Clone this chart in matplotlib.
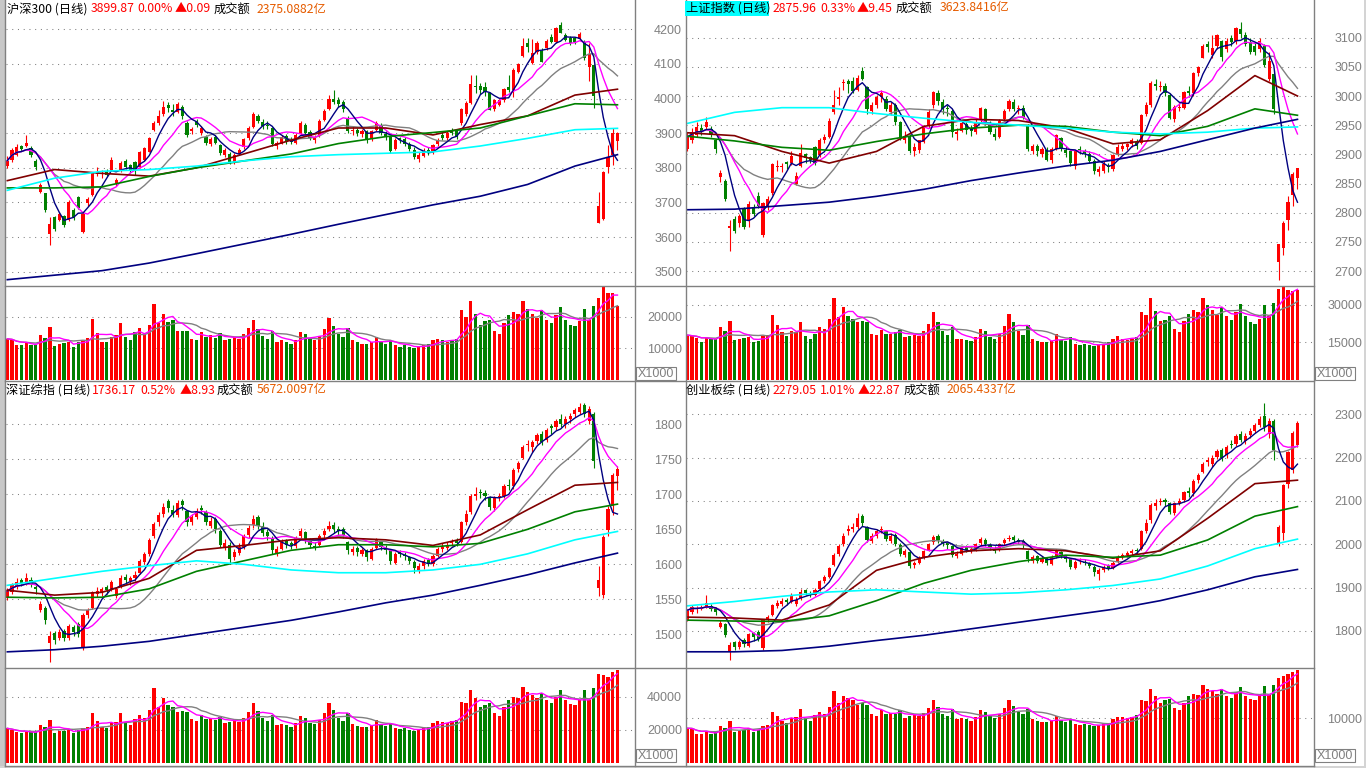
import numpy as np
import pandas as pd
import matplotlib
matplotlib.use("Agg")
import matplotlib.pyplot as plt
from matplotlib.patches import Rectangle
from matplotlib.lines import Line2D

plt.rcParams['font.family'] = ['Noto Sans CJK SC', 'DejaVu Sans']

W, H = 1366, 768
STEP = 4.73  # px between two candles

RED = '#ff0000'
GREEN = '#008000'
NAVY = '#000080'
MAGENTA = '#ff00ff'
GRAY = '#808080'
DARKRED = '#800000'
CYAN = '#00ffff'
FRAME = '#808080'
ORANGE = '#e65c00'

days = np.arange(130)
MA_IDX = [0, 10, 20, 30, 40, 50, 60, 70, 80, 90, 100, 110, 120, 129]

# ---------------- 沪深300 ----------------
hs_open = [3806, 3823, 3837, 3863, 3863, 3856, 3821, 3731, 3726, 3610,
           3658, 3650, 3660, 3650, 3679, 3716, 3616, 3697, 3721, 3782,
           3781, 3790, 3793, 3755, 3793, 3821, 3808, 3818, 3803, 3824,
           3847, 3910, 3930, 3955, 3980, 3968, 3962, 3975, 3929, 3905,
           3934, 3900, 3890, 3868, 3890, 3866, 3838, 3840, 3818, 3840,
           3860, 3885, 3918, 3950, 3932, 3925, 3915, 3862, 3870, 3892,
           3880, 3872, 3898, 3925, 3902, 3880, 3892, 3938, 3970, 3998,
           3995, 3990, 3945, 3905, 3908, 3898, 3905, 3882, 3908, 3925,
           3898, 3888, 3855, 3885, 3882, 3870, 3852, 3825, 3835, 3852,
           3845, 3868, 3896, 3885, 3909, 3907, 3929, 3955, 3988, 4036,
           4036, 4033, 4017, 3969, 3982, 3996, 4033, 4025, 4078, 4123,
           4161, 4102, 4135, 4136, 4147, 4179, 4164, 4212, 4184, 4174,
           4174, 4171, 4164, 4090, 4097, 3642, 3652, 3803, 3837, 3876]
hs_high = [3835, 3857, 3868, 3866, 3895, 3864, 3825, 3755, 3728, 3658,
           3662, 3672, 3664, 3706, 3684, 3720, 3672, 3716, 3788, 3801,
           3795, 3796, 3830, 3772, 3820, 3826, 3812, 3820, 3850, 3860,
           3890, 3935, 3968, 3992, 3990, 3985, 3990, 3980, 3935, 3918,
           3940, 3920, 3895, 3890, 3895, 3870, 3858, 3845, 3842, 3858,
           3886, 3920, 3962, 3955, 3940, 3935, 3918, 3878, 3895, 3898,
           3888, 3900, 3935, 3930, 3910, 3895, 3940, 3970, 4010, 4025,
           4005, 3995, 3950, 3920, 3915, 3912, 3908, 3910, 3935, 3928,
           3905, 3892, 3885, 3890, 3888, 3875, 3860, 3845, 3858, 3860,
           3870, 3885, 3902, 3905, 3915, 3910, 3972, 3992, 4068, 4068,
           4045, 4048, 4020, 4000, 4000, 4030, 4068, 4088, 4102, 4175,
           4175, 4171, 4165, 4145, 4172, 4185, 4208, 4222, 4190, 4180,
           4178, 4192, 4168, 4160, 4100, 3731, 3790, 3866, 3914, 3902]
hs_low = [3800, 3816, 3834, 3850, 3860, 3832, 3794, 3728, 3672, 3576,
          3618, 3645, 3630, 3645, 3650, 3680, 3612, 3690, 3718, 3776,
          3770, 3775, 3790, 3748, 3788, 3798, 3785, 3780, 3800, 3820,
          3845, 3905, 3925, 3950, 3960, 3950, 3958, 3940, 3890, 3898,
          3918, 3895, 3865, 3862, 3868, 3838, 3832, 3810, 3812, 3836,
          3855, 3880, 3915, 3928, 3912, 3912, 3862, 3855, 3868, 3870,
          3868, 3870, 3895, 3895, 3880, 3872, 3890, 3935, 3968, 3985,
          3975, 3962, 3900, 3895, 3892, 3890, 3872, 3878, 3905, 3895,
          3880, 3842, 3852, 3872, 3862, 3850, 3825, 3818, 3830, 3838,
          3840, 3862, 3880, 3880, 3895, 3882, 3925, 3950, 3985, 4015,
          4012, 4008, 3967, 3965, 3978, 3990, 4020, 4005, 4075, 4120,
          4135, 4100, 4130, 4105, 4140, 4160, 4160, 4188, 4165, 4155,
          4158, 4168, 4110, 4050, 3972, 3640, 3650, 3784, 3808, 3852]
hs_close = [3821, 3852, 3861, 3854, 3873, 3837, 3803, 3750, 3677, 3639,
            3624, 3666, 3634, 3702, 3658, 3685, 3668, 3711, 3784, 3789,
            3784, 3780, 3823, 3766, 3815, 3803, 3795, 3793, 3847, 3856,
            3885, 3929, 3950, 3975, 3972, 3960, 3985, 3950, 3895, 3912,
            3924, 3914, 3871, 3882, 3872, 3842, 3852, 3815, 3837, 3852,
            3882, 3915, 3955, 3935, 3920, 3920, 3870, 3872, 3890, 3875,
            3875, 3895, 3930, 3900, 3885, 3885, 3935, 3965, 4000, 3990,
            3985, 3970, 3905, 3910, 3900, 3905, 3880, 3905, 3930, 3900,
            3890, 3850, 3880, 3880, 3870, 3855, 3830, 3837, 3850, 3845,
            3865, 3880, 3887, 3900, 3900, 3888, 3970, 3986, 4042, 4033,
            4025, 4020, 3967, 3996, 3996, 4027, 4025, 4083, 4100, 4152,
            4148, 4131, 4160, 4107, 4166, 4164, 4203, 4190, 4169, 4160,
            4164, 4186, 4116, 4130, 4006, 3690, 3787, 3832, 3899.78, 3899.87]
hs_vol = [13000, 12660, 11100, 11100, 11600, 11100, 11100, 14240, 13400, 16800,
          10760, 11400, 11800, 12130, 10440, 12130, 12450, 13190, 19300, 14970,
          12130, 12130, 13720, 14240, 18150, 13720, 12660, 15300, 16570, 14770,
          17400, 24050, 17930, 20990, 18460, 18990, 15510, 15510, 15510, 13000,
          12660, 15190, 13720, 14240, 13400, 14970, 12500, 13000, 13500, 13000,
          14500, 16500, 19000, 16000, 14000, 13000, 15500, 12000, 12500, 12000,
          11500, 12500, 15000, 14500, 13000, 12500, 14000, 16000, 19500, 17000,
          14500, 13500, 16500, 12500, 12000, 11500, 11500, 12000, 13500, 12000,
          11500, 12500, 11000, 10500, 11000, 10500, 10000, 10500, 11000, 11500,
          12500, 13000, 12500, 12000, 12500, 13000, 22000, 20000, 25000, 21000,
          17500, 18500, 19000, 15500, 14500, 18000, 20500, 21500, 21000, 25000,
          22500, 21000, 19500, 22000, 19000, 18000, 20500, 23000, 19000, 17500,
          17000, 18500, 22500, 19000, 23500, 26000, 29500, 27600, 27600, 23500]
hs_ma30 = [3763, 3795, 3784, 3776, 3800, 3840, 3880, 3915, 3915, 3895, 3925, 3950, 4010, 4027]
hs_ma60 = [3742, 3742, 3745, 3775, 3800, 3820, 3840, 3870, 3890, 3902, 3915, 3950, 3985, 3982]
hs_ma120 = [3735, 3770, 3790, 3795, 3805, 3820, 3832, 3838, 3842, 3846, 3863, 3885, 3910, 3914]
hs_ma250 = [3477, 3490, 3503, 3525, 3552, 3580, 3608, 3637, 3665, 3693, 3718, 3752, 3805, 3838]

# ---------------- 上证指数 ----------------
sh_open = [2909, 2925, 2933, 2946, 2947, 2944, 2925, 2861, 2855, 2774,
           2790, 2783, 2806, 2788, 2808, 2828, 2762, 2810, 2833, 2878,
           2878, 2887, 2885, 2850, 2880, 2901, 2895, 2913, 2899, 2925,
           2930, 2973, 2995, 3022, 3025, 3025, 3010, 3043, 3016, 2975,
           2985, 2998, 2995, 2972, 2985, 2955, 2925, 2930, 2905, 2908,
           2922, 2950, 2985, 3005, 2990, 2980, 2975, 2935, 2940, 2952,
           2945, 2938, 2960, 2978, 2950, 2935, 2930, 2960, 2978, 2990,
           2978, 2980, 2950, 2905, 2915, 2900, 2908, 2890, 2910, 2928,
           2908, 2905, 2880, 2908, 2905, 2900, 2888, 2870, 2872, 2880,
           2875, 2900, 2910, 2912, 2918, 2922, 2920, 2970, 2985, 3020,
           3015, 3018, 3002, 2960, 2980, 2980, 3008, 3005, 3040, 3066,
           3089, 3070, 3085, 3095, 3080, 3100, 3095, 3115, 3105, 3092,
           3085, 3080, 3085, 3030, 3037, 2716, 2739, 2787, 2830, 2859]
sh_high = [2938, 2945, 2955, 2952, 2964, 2948, 2927, 2873, 2857, 2788,
           2795, 2798, 2810, 2820, 2815, 2835, 2818, 2828, 2885, 2890,
           2885, 2888, 2905, 2870, 2918, 2903, 2898, 2915, 2928, 2935,
           2962, 3010, 3015, 3030, 3030, 3032, 3036, 3050, 3018, 2990,
           3002, 3010, 3000, 2990, 2988, 2958, 2940, 2935, 2920, 2925,
           2950, 2978, 3008, 3010, 2995, 2985, 2978, 2945, 2958, 2955,
           2950, 2960, 2982, 2980, 2958, 2945, 2960, 2978, 2995, 2995,
           2985, 2985, 2952, 2918, 2918, 2912, 2912, 2912, 2935, 2930,
           2915, 2908, 2908, 2915, 2910, 2905, 2892, 2880, 2888, 2885,
           2900, 2918, 2920, 2920, 2928, 2926, 2970, 2990, 3025, 3030,
           3025, 3022, 3005, 2985, 2990, 3008, 3018, 3042, 3052, 3090,
           3095, 3105, 3106, 3096, 3100, 3105, 3118, 3127, 3110, 3100,
           3092, 3100, 3090, 3075, 3045, 2746, 2785, 2828, 2870, 2876]
sh_low = [2905, 2920, 2930, 2933, 2944, 2930, 2902, 2853, 2820, 2734,
          2765, 2775, 2772, 2775, 2795, 2808, 2758, 2805, 2830, 2872,
          2870, 2875, 2882, 2848, 2878, 2885, 2886, 2882, 2895, 2920,
          2928, 2970, 2985, 3010, 3005, 3005, 3008, 3028, 2970, 2970,
          2980, 2990, 2975, 2968, 2950, 2925, 2920, 2903, 2898, 2902,
          2920, 2945, 2980, 2985, 2970, 2965, 2930, 2925, 2938, 2935,
          2932, 2935, 2955, 2950, 2935, 2925, 2928, 2955, 2975, 2975,
          2970, 2960, 2905, 2900, 2898, 2895, 2888, 2885, 2908, 2905,
          2895, 2880, 2875, 2900, 2895, 2885, 2866, 2863, 2868, 2870,
          2872, 2898, 2905, 2908, 2912, 2910, 2918, 2965, 2982, 3010,
          3008, 3000, 2960, 2955, 2975, 2978, 2998, 3000, 3035, 3065,
          3075, 3065, 3080, 3060, 3075, 3085, 3090, 3100, 3085, 3072,
          3070, 3075, 3050, 3025, 2970, 2685, 2728, 2771, 2812, 2840]
sh_close = [2930, 2939, 2947, 2940, 2956, 2934, 2910, 2868, 2823, 2778,
            2769, 2794, 2776, 2815, 2798, 2811, 2816, 2824, 2883, 2880,
            2880, 2883, 2898, 2863, 2902, 2893, 2890, 2886, 2924, 2930,
            2957, 2985, 2999, 3024, 3021, 3008, 3031, 3030, 2978, 2985,
            2999, 3006, 2978, 2985, 2955, 2929, 2932, 2905, 2913, 2924,
            2947, 2973, 3007, 2991, 2978, 2977, 2938, 2939, 2954, 2941,
            2940, 2955, 2980, 2954, 2939, 2929, 2958, 2975, 2991, 2978,
            2978, 2964, 2909, 2914, 2905, 2909, 2891, 2909, 2933, 2911,
            2903, 2885, 2906, 2907, 2903, 2889, 2872, 2875, 2884, 2878,
            2899, 2912, 2915, 2917, 2924, 2915, 2968, 2985, 3022, 3017,
            3017, 3005, 2962, 2982, 2981, 3007, 3005, 3040, 3050, 3085,
            3084, 3083, 3104, 3067, 3095, 3092, 3116, 3107, 3090, 3075,
            3075, 3095, 3053, 3060, 2977, 2746, 2783, 2818, 2866.51, 2875.96]
sh_vol = [17900, 17400, 16900, 15000, 16900, 16200, 16200, 21300, 19500, 23500,
          16000, 16500, 16800, 17000, 15000, 15500, 17500, 18000, 26000, 22000,
          19000, 17500, 19500, 19000, 23000, 17500, 16500, 18500, 21000, 20500,
          24500, 33000, 25000, 29000, 25500, 24500, 23000, 23500, 23000, 18500,
          18000, 20000, 18500, 18500, 19000, 20000, 17000, 17500, 18000, 17500,
          19500, 22500, 27000, 23000, 19500, 18000, 21000, 16500, 16500, 16000,
          15500, 17000, 20500, 19500, 17000, 16500, 18500, 21500, 26500, 23000,
          19500, 18000, 22000, 16500, 15500, 15000, 15000, 15500, 18500, 16000,
          15500, 17000, 14500, 14000, 14500, 14000, 13500, 14000, 14500, 15000,
          16500, 17500, 16500, 16000, 16500, 17000, 27000, 26000, 33000, 27500,
          23500, 24000, 25500, 20500, 19000, 23500, 26500, 28000, 27000, 33000,
          30000, 28000, 26000, 29000, 25500, 24000, 27000, 30500, 25500, 23000,
          22500, 24500, 30000, 25500, 31000, 36500, 37500, 36000, 35500, 36000]
sh_ma30 = [2937, 2932, 2905, 2885, 2905, 2948, 2960, 2958, 2945, 2918, 2925, 2975, 3035, 3000]
sh_ma60 = [2931, 2923, 2912, 2907, 2922, 2935, 2945, 2950, 2948, 2938, 2932, 2948, 2978, 2967]
sh_ma120 = [2953, 2972, 2980, 2980, 2970, 2962, 2955, 2950, 2945, 2938, 2935, 2938, 2945, 2947]
sh_ma250 = [2805, 2806, 2812, 2818, 2828, 2840, 2855, 2868, 2880, 2890, 2905, 2925, 2945, 2960]

# ---------------- 深证综指 ----------------
sz_open = [1552, 1560, 1568, 1577, 1572, 1578, 1568, 1535, 1538, 1488,
           1502, 1495, 1505, 1495, 1510, 1515, 1482, 1528, 1538, 1558,
           1560, 1567, 1565, 1555, 1568, 1582, 1576, 1580, 1588, 1604,
           1615, 1640, 1660, 1672, 1690, 1678, 1670, 1690, 1676, 1660,
           1668, 1680, 1675, 1655, 1665, 1648, 1625, 1628, 1610, 1616,
           1625, 1642, 1656, 1668, 1655, 1646, 1638, 1615, 1622, 1633,
           1630, 1626, 1640, 1646, 1634, 1626, 1628, 1642, 1650, 1656,
           1650, 1650, 1632, 1618, 1623, 1615, 1620, 1608, 1624, 1632,
           1624, 1620, 1602, 1618, 1614, 1610, 1604, 1592, 1598, 1606,
           1600, 1612, 1622, 1624, 1630, 1635, 1632, 1660, 1675, 1698,
           1704, 1702, 1696, 1680, 1696, 1698, 1714, 1712, 1736, 1752,
           1770, 1768, 1776, 1786, 1778, 1798, 1796, 1808, 1800, 1808,
           1815, 1818, 1828, 1805, 1815, 1566, 1556, 1649, 1683, 1726]
sz_high = [1566, 1574, 1580, 1580, 1588, 1582, 1570, 1548, 1540, 1505,
           1505, 1508, 1508, 1515, 1514, 1518, 1530, 1538, 1562, 1568,
           1568, 1570, 1578, 1568, 1585, 1586, 1584, 1590, 1607, 1618,
           1638, 1660, 1675, 1688, 1693, 1685, 1692, 1694, 1678, 1672,
           1680, 1685, 1678, 1668, 1668, 1650, 1636, 1632, 1622, 1630,
           1643, 1656, 1670, 1670, 1660, 1650, 1640, 1626, 1636, 1636,
           1634, 1640, 1652, 1648, 1638, 1632, 1643, 1652, 1662, 1660,
           1655, 1654, 1634, 1626, 1626, 1624, 1622, 1625, 1638, 1634,
           1628, 1622, 1618, 1620, 1618, 1612, 1606, 1602, 1608, 1609,
           1615, 1625, 1630, 1632, 1636, 1638, 1662, 1678, 1700, 1710,
           1708, 1706, 1698, 1697, 1702, 1715, 1722, 1737, 1748, 1770,
           1778, 1778, 1788, 1790, 1795, 1800, 1808, 1815, 1812, 1816,
           1824, 1830, 1830, 1826, 1818, 1598, 1642, 1684, 1731, 1740]
sz_low = [1549, 1557, 1565, 1569, 1570, 1568, 1558, 1532, 1515, 1460,
          1486, 1492, 1490, 1492, 1498, 1496, 1478, 1524, 1536, 1554,
          1555, 1558, 1562, 1552, 1566, 1572, 1570, 1576, 1586, 1600,
          1612, 1638, 1655, 1668, 1675, 1668, 1668, 1678, 1655, 1656,
          1665, 1672, 1656, 1652, 1645, 1625, 1620, 1600, 1606, 1614,
          1622, 1638, 1652, 1650, 1640, 1635, 1615, 1612, 1620, 1624,
          1622, 1624, 1637, 1630, 1624, 1620, 1626, 1638, 1647, 1645,
          1642, 1638, 1615, 1614, 1612, 1612, 1605, 1606, 1622, 1620,
          1615, 1600, 1600, 1610, 1606, 1600, 1588, 1588, 1594, 1598,
          1598, 1610, 1618, 1620, 1626, 1626, 1630, 1656, 1672, 1692,
          1695, 1692, 1678, 1676, 1690, 1695, 1706, 1708, 1732, 1750,
          1762, 1760, 1772, 1770, 1775, 1786, 1792, 1796, 1795, 1802,
          1810, 1815, 1810, 1800, 1738, 1555, 1552, 1640, 1670, 1706]
sz_close = [1562, 1570, 1575, 1573, 1580, 1572, 1565, 1543, 1520, 1497,
            1492, 1503, 1495, 1512, 1503, 1500, 1528, 1535, 1560, 1562,
            1565, 1563, 1575, 1565, 1580, 1577, 1580, 1585, 1605, 1615,
            1635, 1658, 1670, 1682, 1680, 1672, 1688, 1685, 1660, 1668,
            1675, 1678, 1660, 1662, 1650, 1628, 1630, 1608, 1618, 1625,
            1640, 1652, 1665, 1655, 1645, 1640, 1620, 1622, 1632, 1628,
            1628, 1638, 1648, 1635, 1628, 1625, 1640, 1648, 1655, 1650,
            1648, 1642, 1620, 1622, 1618, 1620, 1610, 1622, 1635, 1625,
            1620, 1605, 1615, 1615, 1612, 1605, 1595, 1598, 1605, 1602,
            1612, 1622, 1625, 1628, 1632, 1630, 1660, 1672, 1698, 1700,
            1702, 1698, 1682, 1695, 1698, 1712, 1712, 1735, 1745, 1768,
            1772, 1775, 1785, 1775, 1792, 1795, 1805, 1800, 1808, 1812,
            1820, 1825, 1815, 1822, 1748, 1578, 1639, 1679, 1727.24, 1736.17]
sz_vol = [21000, 20000, 18500, 18000, 19000, 18500, 19000, 23000, 22000, 26000,
          18000, 19500, 19500, 20500, 18000, 20000, 21000, 22000, 30000, 25500,
          22000, 21500, 24000, 25000, 30000, 24000, 23000, 26500, 29000, 27500,
          32000, 45000, 34000, 39000, 35000, 34000, 31000, 31500, 31000, 26500,
          25500, 29000, 26500, 27000, 26000, 28000, 24000, 25000, 25500, 25000,
          27500, 31000, 36000, 31500, 27000, 25500, 29000, 23000, 23500, 23000,
          22000, 24000, 28500, 27500, 24500, 23500, 26000, 30000, 36000, 32000,
          27500, 25500, 30000, 23500, 22500, 22000, 22000, 23000, 26000, 23500,
          22500, 24000, 21000, 20500, 21000, 20000, 19500, 20500, 21500, 22000,
          24000, 25500, 25000, 24500, 25500, 26000, 37000, 36000, 44000, 39000,
          34000, 35000, 36000, 30000, 28500, 34000, 38000, 40000, 39000, 46000,
          43000, 41000, 39000, 42000, 38000, 36500, 40000, 44000, 38000, 35500,
          35000, 38000, 44000, 38000, 45000, 53500, 53000, 52000, 54600, 56000]
sz_ma30 = [1563, 1556, 1560, 1580, 1620, 1627, 1635, 1638, 1635, 1627, 1642, 1678, 1713, 1717]
sz_ma60 = [1553, 1552, 1553, 1565, 1590, 1605, 1620, 1628, 1628, 1625, 1630, 1650, 1675, 1686]
sz_ma120 = [1570, 1580, 1590, 1598, 1605, 1600, 1592, 1588, 1588, 1592, 1600, 1615, 1635, 1647]
sz_ma250 = [1475, 1478, 1483, 1490, 1500, 1510, 1520, 1532, 1545, 1556, 1570, 1585, 1602, 1616]

# ---------------- 创业板综 ----------------
cy_open = [1825, 1844, 1850, 1851, 1856, 1858, 1854, 1810, 1815, 1752,
           1775, 1762, 1780, 1765, 1795, 1798, 1760, 1825, 1838, 1858,
           1862, 1872, 1868, 1862, 1875, 1895, 1886, 1884, 1896, 1915,
           1925, 1952, 1978, 2000, 2030, 2035, 2040, 2065, 2040, 2008,
           2020, 2032, 2030, 2008, 2022, 1998, 1975, 1982, 1952, 1958,
           1968, 1988, 2005, 2020, 2008, 2002, 1995, 1972, 1978, 1994,
           1988, 1988, 2002, 2010, 1998, 1990, 1988, 2002, 2012, 2018,
           2010, 2008, 1985, 1962, 1972, 1960, 1968, 1955, 1972, 1982,
           1970, 1965, 1946, 1962, 1960, 1958, 1948, 1932, 1940, 1950,
           1945, 1960, 1970, 1975, 1980, 1988, 1990, 2030, 2055, 2088,
           2098, 2102, 2095, 2072, 2096, 2102, 2122, 2118, 2148, 2168,
           2190, 2185, 2202, 2218, 2205, 2232, 2232, 2255, 2238, 2252,
           2262, 2275, 2295, 2255, 2285, 2000, 2025, 2140, 2172, 2229]
cy_high = [1850, 1860, 1858, 1860, 1883, 1862, 1856, 1825, 1818, 1775,
           1778, 1780, 1784, 1796, 1798, 1802, 1828, 1838, 1862, 1872,
           1875, 1875, 1888, 1878, 1898, 1898, 1892, 1900, 1918, 1930,
           1948, 1980, 2000, 2025, 2045, 2050, 2072, 2070, 2042, 2025,
           2035, 2042, 2034, 2025, 2025, 2002, 1990, 1986, 1962, 1972,
           1988, 2004, 2022, 2024, 2012, 2006, 1998, 1985, 1996, 1998,
           1995, 2004, 2018, 2014, 2002, 1995, 2004, 2015, 2022, 2022,
           2015, 2012, 1988, 1975, 1975, 1972, 1970, 1975, 1990, 1985,
           1975, 1968, 1964, 1968, 1965, 1960, 1952, 1945, 1952, 1954,
           1962, 1975, 1980, 1985, 1990, 1992, 2034, 2058, 2095, 2105,
           2108, 2108, 2098, 2098, 2106, 2124, 2132, 2150, 2165, 2190,
           2202, 2205, 2220, 2222, 2230, 2240, 2255, 2262, 2256, 2268,
           2280, 2295, 2325, 2292, 2290, 2045, 2140, 2215, 2262, 2285]
cy_low = [1822, 1840, 1842, 1848, 1853, 1846, 1838, 1806, 1786, 1733,
          1755, 1758, 1762, 1762, 1778, 1776, 1756, 1820, 1835, 1852,
          1858, 1860, 1865, 1858, 1872, 1882, 1878, 1880, 1892, 1910,
          1922, 1950, 1972, 1996, 2022, 2028, 2036, 2042, 2005, 2002,
          2015, 2025, 2008, 2004, 1995, 1972, 1970, 1945, 1946, 1955,
          1965, 1984, 2000, 2004, 1995, 1990, 1970, 1968, 1975, 1982,
          1980, 1985, 1998, 1995, 1986, 1980, 1985, 1998, 2008, 2005,
          2000, 1992, 1960, 1958, 1958, 1956, 1952, 1952, 1968, 1968,
          1960, 1942, 1942, 1955, 1952, 1945, 1928, 1918, 1936, 1940,
          1942, 1956, 1966, 1970, 1976, 1978, 1988, 2025, 2050, 2080,
          2090, 2088, 2070, 2068, 2090, 2098, 2110, 2112, 2142, 2165,
          2180, 2178, 2196, 2192, 2200, 2222, 2228, 2235, 2232, 2246,
          2258, 2270, 2262, 2245, 2195, 1995, 2010, 2130, 2165, 2225]
cy_close = [1848, 1856, 1852, 1856, 1865, 1851, 1843, 1818, 1790, 1768,
            1762, 1775, 1770, 1792, 1785, 1782, 1825, 1832, 1860, 1865,
            1870, 1868, 1882, 1872, 1890, 1888, 1885, 1895, 1915, 1925,
            1945, 1975, 1995, 2020, 2035, 2040, 2060, 2050, 2010, 2020,
            2030, 2035, 2012, 2020, 2000, 1978, 1985, 1950, 1958, 1968,
            1985, 2000, 2018, 2010, 2002, 1998, 1975, 1978, 1992, 1988,
            1990, 2000, 2012, 2000, 1992, 1985, 2000, 2010, 2015, 2010,
            2005, 1998, 1965, 1970, 1962, 1968, 1958, 1970, 1985, 1972,
            1965, 1948, 1960, 1962, 1958, 1950, 1935, 1940, 1948, 1945,
            1958, 1970, 1975, 1980, 1985, 1985, 2030, 2050, 2090, 2095,
            2100, 2098, 2075, 2095, 2100, 2120, 2118, 2145, 2160, 2185,
            2195, 2200, 2215, 2200, 2225, 2230, 2250, 2240, 2250, 2262,
            2275, 2290, 2270, 2285, 2218, 2040, 2138, 2212, 2256.18, 2279.05]
cy_vol = [7800, 7700, 6500, 6450, 7250, 6500, 7000, 8200, 7800, 9500,
          7000, 7200, 7500, 7800, 7000, 7500, 8200, 8500, 11500, 10500,
          9500, 9000, 10000, 10200, 12000, 10000, 9500, 10800, 11500, 11000,
          12500, 16000, 13500, 15000, 14500, 14000, 13000, 13500, 13000, 11000,
          10500, 11800, 11000, 11200, 11000, 11800, 10000, 10500, 10800, 10500,
          11200, 12200, 14000, 12500, 11000, 10500, 12000, 9800, 10000, 9800,
          9500, 10200, 11800, 11500, 10500, 10000, 11000, 12200, 14000, 12800,
          11500, 11000, 12000, 9800, 9500, 9200, 9200, 9500, 10500, 9600,
          9200, 9800, 8800, 8500, 8800, 8400, 8200, 8500, 8800, 9000,
          9800, 10400, 10200, 10000, 10400, 10800, 14000, 13800, 16500, 15000,
          13500, 14000, 14200, 12200, 11800, 13500, 15000, 15500, 15200, 17500,
          16500, 16000, 15500, 16500, 15000, 14500, 15800, 17000, 15000, 14200,
          14000, 15200, 17200, 15200, 17500, 19000, 19500, 19800, 20300, 20800]
cy_ma30 = [1832, 1830, 1825, 1860, 1940, 1970, 1985, 1990, 1985, 1968, 1985, 2060, 2140, 2148]
cy_ma60 = [1825, 1823, 1822, 1835, 1870, 1910, 1940, 1960, 1975, 1970, 1975, 2010, 2065, 2087]
cy_ma120 = [1858, 1868, 1880, 1890, 1895, 1890, 1885, 1888, 1895, 1905, 1920, 1950, 1990, 2012]
cy_ma250 = [1752, 1752, 1755, 1765, 1778, 1790, 1805, 1820, 1835, 1850, 1870, 1895, 1925, 1942]


def fx(x):
    return x / W


def fy(y):
    return 1 - y / H


fig = plt.figure(figsize=(W / 100, H / 100), dpi=100)
fig.patch.set_facecolor('white')


def add_ax(x0, y0, x1, y1):
    ax = fig.add_axes([fx(x0), fy(y1), (x1 - x0) / W, (y1 - y0) / H])
    for s in ax.spines.values():
        s.set_visible(False)
    ax.set_xticks([])
    ax.set_xlim(-1.3 / STEP, (x1 - x0 - 1.3) / STEP)
    ax.patch.set_alpha(0)
    return ax


def style_y(ax, ticks, label_off):
    ax.yaxis.tick_right()
    ax.set_yticks(ticks)
    ax.set_yticklabels([str(t) for t in ticks])
    ax.tick_params(axis='y', length=0, pad=label_off * 0.72, labelsize=9, labelcolor='#808080')
    for t in ax.get_yticklabels():
        t.set_horizontalalignment('right')
        t.set_fontfamily('Liberation Sans')
    ax.grid(axis='y', color='#808080', linestyle=(0, (1, 4.5)), lw=0.75)
    ax.set_axisbelow(True)


def draw_price(ax, o, h, l, c, long_mas, ylim):
    o, h, l, c = (np.asarray(a, float) for a in (o, h, l, c))
    col = np.where(c >= o, RED, GREEN)
    ax.set_ylim(*ylim)
    one_px = (ylim[1] - ylim[0]) / ax.bbox.height
    ax.vlines(days, l, h, colors=col, lw=0.8, zorder=2)
    ax.bar(days, np.maximum(np.abs(c - o), one_px), bottom=np.minimum(o, c),
           width=0.66, color=col, lw=0, zorder=2)
    close = pd.Series(c)
    for n, colr in ((20, GRAY), (10, MAGENTA), (5, NAVY)):
        ax.plot(days, close.rolling(n, min_periods=1).mean(), color=colr, lw=1.0, zorder=3)
    for vals, colr in zip(long_mas, (DARKRED, GREEN, CYAN, NAVY)):
        ax.plot(MA_IDX, vals, color=colr, lw=1.2, zorder=3)


def draw_volume(ax, o, c, v, ylim):
    col = np.where(np.asarray(c, float) >= np.asarray(o, float), RED, GREEN)
    ax.bar(days, v, width=0.7, color=col, lw=0, zorder=2)
    vs = pd.Series(v, dtype=float)
    ax.plot(days, vs.rolling(10, min_periods=1).mean(), color=GRAY, lw=1.0, zorder=3)
    ax.plot(days, vs.rolling(5, min_periods=1).mean(), color=MAGENTA, lw=1.0, zorder=3)
    ax.set_ylim(*ylim)


def title(y, parts, cyan_to=None):
    if cyan_to is not None:
        fig.add_artist(Rectangle((fx(parts[0][0] - 1), fy(y + 7.5)), (cyan_to - parts[0][0] + 1) / W, 15 / H,
                                 transform=fig.transFigure, color=CYAN, lw=0, zorder=4))
    for x, txt, colr in parts:
        fig.text(fx(x), fy(y), txt, color=colr, fontsize=8.8, va='center', ha='left', zorder=5)


def x1000(x0, y0):
    fig.add_artist(Rectangle((fx(x0), fy(y0 + 13)), 40 / W, 13 / H, transform=fig.transFigure,
                             fill=False, ec='#808080', lw=0.8, zorder=5))
    fig.text(fx(x0 + 20), fy(y0 + 6.8), 'X1000', color='#808080', fontsize=9,
             family='Liberation Sans', ha='center', va='center', zorder=5)


# panel layout in pixels
LEFT = (6, 635)
RIGHT = (686, 1314)

# 沪深300
ax = add_ax(LEFT[0], 0, LEFT[1], 285.7)
draw_price(ax, hs_open, hs_high, hs_low, hs_close, (hs_ma30, hs_ma60, hs_ma120, hs_ma250), (3459.6, 4284.6))
style_y(ax, [3500, 3600, 3700, 3800, 3900, 4000, 4100, 4200], 47)
ax = add_ax(LEFT[0], 285.7, LEFT[1], 380.5)
draw_volume(ax, hs_open, hs_close, hs_vol, (-190, 29810))
style_y(ax, [10000, 20000], 47)

# 上证指数
ax = add_ax(RIGHT[0], 0, RIGHT[1], 285.7)
draw_price(ax, sh_open, sh_high, sh_low, sh_close, (sh_ma30, sh_ma60, sh_ma120, sh_ma250), (2674.8, 3164.6))
style_y(ax, [2700, 2750, 2800, 2850, 2900, 2950, 3000, 3050, 3100], 48)
ax = add_ax(RIGHT[0], 285.7, RIGHT[1], 380.5)
draw_volume(ax, sh_open, sh_close, sh_vol, (-362, 37757))
style_y(ax, [15000, 30000], 48)

# 深证综指
ax = add_ax(LEFT[0], 380.5, LEFT[1], 668)
draw_price(ax, sz_open, sz_high, sz_low, sz_close, (sz_ma30, sz_ma60, sz_ma120, sz_ma250), (1451.9, 1862.6))
style_y(ax, [1500, 1550, 1600, 1650, 1700, 1750, 1800], 47)
ax = add_ax(LEFT[0], 668, LEFT[1], 765)
draw_volume(ax, sz_open, sz_close, sz_vol, (-1021, 57237))
style_y(ax, [20000, 40000], 47)

# 创业板综
ax = add_ax(RIGHT[0], 380.5, RIGHT[1], 668)
draw_price(ax, cy_open, cy_high, cy_low, cy_close, (cy_ma30, cy_ma60, cy_ma120, cy_ma250), (1714.6, 2378))
style_y(ax, [1800, 1900, 2000, 2100, 2200, 2300], 48)
ax = add_ax(RIGHT[0], 668, RIGHT[1], 765)
draw_volume(ax, cy_open, cy_close, cy_vol, (-378, 21178))
style_y(ax, [10000], 48)


# frame lines
def fline(x0, y0, x1, y1, color=FRAME, lw=1.0):
    fig.add_artist(Line2D([fx(x0), fx(x1)], [fy(y0), fy(y1)], transform=fig.transFigure,
                          color=color, lw=lw, zorder=4))


fig.add_artist(Rectangle((0, 0), 4.5 / W, 1, transform=fig.transFigure, color='#c8c8c8', lw=0, zorder=4))
fig.add_artist(Rectangle((fx(1364), 0), 2 / W, 1, transform=fig.transFigure, color='#d4d4d4', lw=0, zorder=4))
fig.add_artist(Rectangle((0, 0), 1, 2 / H, transform=fig.transFigure, color='#d4d4d4', lw=0, zorder=4))
for xv in (5.3, 635.2, 686, 1314.3):
    fline(xv, 0, xv, 766)
for yv in (285.7, 380.8, 668, 765.5):
    fline(5, yv, 1314.3, yv)

# titles
title(9, [(6.7, '沪深300 (日线)', 'black'), (90.7, '3899.87', RED), (137.7, '0.00%', RED),
          (175, '▲0.09', RED), (214, '成交额', 'black'), (257, '2375.0882亿', ORANGE)])
title(8, [(686, '上证指数 (日线)', 'black'), (773, '2875.96', RED), (820.7, '0.33%', RED),
          (857, '▲9.45', RED), (896, '成交额', 'black'), (940, '3623.8416亿', ORANGE)], cyan_to=769)
title(390, [(6.5, '深证综指 (日线)', 'black'), (91.7, '1736.17', RED), (140, '0.52%', RED),
            (180, '▲8.93', RED), (216.7, '成交额', 'black'), (256.7, '5672.0097亿', ORANGE)])
title(390, [(686, '创业板综 (日线)', 'black'), (773, '2279.05', RED), (819.7, '1.01%', RED),
            (858, '▲22.87', RED), (903.7, '成交额', 'black'), (946.3, '2065.4337亿', ORANGE)])

x1000(635.5, 367.5)
x1000(1315, 367)
x1000(635.5, 749.3)
x1000(1315, 749.3)

fig.savefig('out.png', dpi=100, facecolor='white')
